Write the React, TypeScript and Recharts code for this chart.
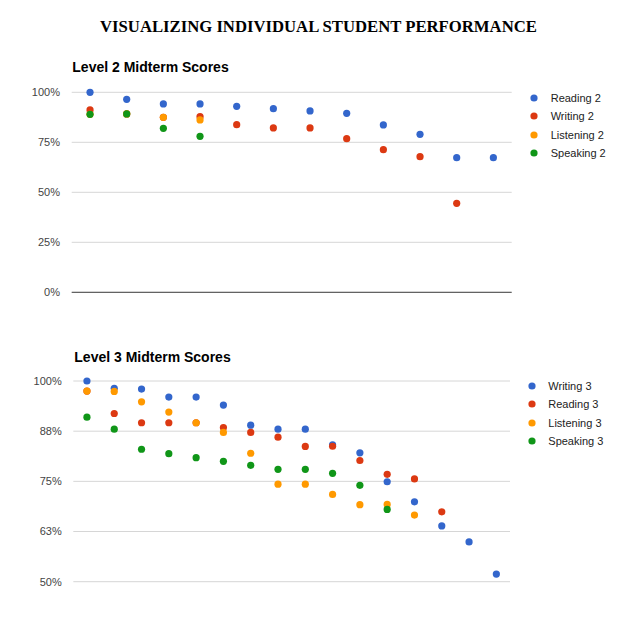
import React from 'react';
import { ComposedChart, Line, XAxis, YAxis, CartesianGrid, ReferenceLine, Legend } from 'recharts';

const BLUE = '#3366cc';
const RED = '#dc3912';
const ORANGE = '#ff9900';
const GREEN = '#109618';

// Level 2 (12 students)
const reading2 = [100, 96.5, 94.2, 94.2, 93, 91.8, 90.7, 89.5, 83.7, 79, 67.3, 67.3];
const writing2 = [91.2, 89.2, 87.5, 87.8, 83.8, 82.2, 82.2, 76.8, 71.3, 67.8, 44.5, null];
const listening2 = [89, 89.2, 87.5, 86.2, null, null, null, null, null, null, null, null];
const speaking2 = [89, 89.2, 82, 78, null, null, null, null, null, null, null, null];
const ticks2 = [0, 25, 50, 75, 100];
const names2 = ['Reading 2', 'Writing 2', 'Listening 2', 'Speaking 2'];

// Level 3 (16 students)
const writing3 = [100, 98.2, 98, 96, 96, 94, 89, 88, 88, 84.1, 82.1, 74.9, 69.9, 63.9, 59.9, 51.9];
const reading3 = [97.5, 91.9, 89.6, 89.6, 89.6, 88.4, 87.2, 86, 83.7, 83.75, 80.2, 76.75, 75.6, 67.4, null, null];
const listening3 = [97.5, 97.4, 94.8, 92.25, 89.6, 87.2, 82, 74.3, 74.3, 71.75, 69.2, 69.25, 66.6, null, null, null];
const speaking3 = [91, 88, 83, 81.9, 80.9, 80, 79, 78, 78, 77, 74, 68, null, null, null, null];
const ticks3 = [50, 62.5, 75, 87.5, 100];
const names3 = ['Writing 3', 'Reading 3', 'Listening 3', 'Speaking 3'];

const COLORS = [BLUE, RED, ORANGE, GREEN];

const data2 = reading2.map((_, i) => ({
  idx: i,
  reading: reading2[i],
  writing: writing2[i],
  listening: listening2[i],
  speaking: speaking2[i],
}));

const data3 = writing3.map((_, i) => ({
  idx: i,
  writing: writing3[i],
  reading: reading3[i],
  listening: listening3[i],
  speaking: speaking3[i],
}));

const FONT = '"Liberation Sans", Arial, sans-serif';

const makeLegend = (gap: number, names: string[]) => (props: any) => {
  const payload = [...(props.payload || [])].sort(
    (a: any, b: any) => names.indexOf(a.value) - names.indexOf(b.value)
  );
  return (
    <div style={{ fontFamily: FONT, fontSize: 11, color: '#222' }}>
      {payload.map((e: any, i: number) => (
        <div key={i} style={{ display: 'flex', alignItems: 'center', height: 18.5 }}>
          <svg width={8} height={8} style={{ display: 'block' }}>
            <circle cx={4} cy={4} r={3.6} fill={COLORS[names.indexOf(e.value)]} />
          </svg>
          <span style={{ marginLeft: gap, whiteSpace: 'nowrap' }}>{e.value}</span>
        </div>
      ))}
    </div>
  );
};

const dot = (c: string) => ({ r: 3.6, fill: c, stroke: 'none', strokeWidth: 0 });

export default function App() {
  return (
    <div style={{ position: 'absolute', left: 0, top: 0, width: 618, height: 640, background: '#fff' }}>
      <svg width={618} height={640} style={{ position: 'absolute', left: 0, top: 0 }}>
        <text x={100} y={32} fontFamily='"Liberation Serif", "Times New Roman", serif' fontWeight="bold" fontSize={16.7} fill="#000">
          VISUALIZING INDIVIDUAL STUDENT PERFORMANCE
        </text>
        <text x={72.3} y={72} fontFamily={FONT} fontWeight="bold" fontSize={14} fill="#000">
          Level 2 Midterm Scores
        </text>
        <text x={74.3} y={361.5} fontFamily={FONT} fontWeight="bold" fontSize={14} fill="#000">
          Level 3 Midterm Scores
        </text>
      </svg>

      <div style={{ position: 'absolute', left: 0, top: 0 }}>
        <ComposedChart
          width={618}
          height={300}
          data={data2}
          margin={{ top: 92.3, right: 106.3, bottom: 7.7, left: 0 }}
          style={{ fontFamily: FONT }}
        >
          <CartesianGrid vertical={false} stroke="#d6d6d6" />
          <XAxis dataKey="idx" type="number" domain={[-0.5, 11.5]} hide />
          <YAxis
            width={71.7}
            domain={[0, 100]}
            ticks={ticks2}
            tickFormatter={(v: number) => `${Math.round(v)}%`}
            axisLine={false}
            tickLine={false}
            tickSize={0}
            tickMargin={11.7}
            tick={{ fontSize: 11, fill: '#444', fontFamily: FONT }}
          />
          <ReferenceLine y={0} stroke="#444" strokeWidth={1} />
          <Line dataKey="reading" name={names2[0]} stroke="none" strokeWidth={0} dot={dot(BLUE)} activeDot={false} isAnimationActive={false} legendType="circle" />
          <Line dataKey="writing" name={names2[1]} stroke="none" strokeWidth={0} dot={dot(RED)} activeDot={false} isAnimationActive={false} legendType="circle" />
          <Line dataKey="listening" name={names2[2]} stroke="none" strokeWidth={0} dot={dot(ORANGE)} activeDot={false} isAnimationActive={false} legendType="circle" />
          <Line dataKey="speaking" name={names2[3]} stroke="none" strokeWidth={0} dot={dot(GREEN)} activeDot={false} isAnimationActive={false} legendType="circle" />
          <Legend
            layout="horizontal"
            verticalAlign="middle"
            align="center"
            content={makeLegend(12.4, names2)}
            wrapperStyle={{ left: 530.3, top: 88.5, width: 88, height: 80 }}
          />
        </ComposedChart>
      </div>

      <div style={{ position: 'absolute', left: 0, top: 300 }}>
        <ComposedChart
          width={618}
          height={300}
          data={data3}
          margin={{ top: 81, right: 108, bottom: 18.3, left: 0 }}
          style={{ fontFamily: FONT }}
        >
          <CartesianGrid vertical={false} stroke="#d6d6d6" />
          <XAxis dataKey="idx" type="number" domain={[-0.5, 15.5]} hide />
          <YAxis
            width={73.3}
            domain={[50, 100]}
            ticks={ticks3}
            tickFormatter={(v: number) => `${Math.round(v)}%`}
            axisLine={false}
            tickLine={false}
            tickSize={0}
            tickMargin={11.6}
            tick={{ fontSize: 11, fill: '#444', fontFamily: FONT }}
          />
          <Line dataKey="writing" name={names3[0]} stroke="none" strokeWidth={0} dot={dot(BLUE)} activeDot={false} isAnimationActive={false} legendType="circle" />
          <Line dataKey="reading" name={names3[1]} stroke="none" strokeWidth={0} dot={dot(RED)} activeDot={false} isAnimationActive={false} legendType="circle" />
          <Line dataKey="listening" name={names3[2]} stroke="none" strokeWidth={0} dot={dot(ORANGE)} activeDot={false} isAnimationActive={false} legendType="circle" />
          <Line dataKey="speaking" name={names3[3]} stroke="none" strokeWidth={0} dot={dot(GREEN)} activeDot={false} isAnimationActive={false} legendType="circle" />
          <Legend
            layout="horizontal"
            verticalAlign="middle"
            align="center"
            content={makeLegend(12, names3)}
            wrapperStyle={{ left: 528.3, top: 76.4, width: 90, height: 80 }}
          />
        </ComposedChart>
      </div>
    </div>
  );
}
